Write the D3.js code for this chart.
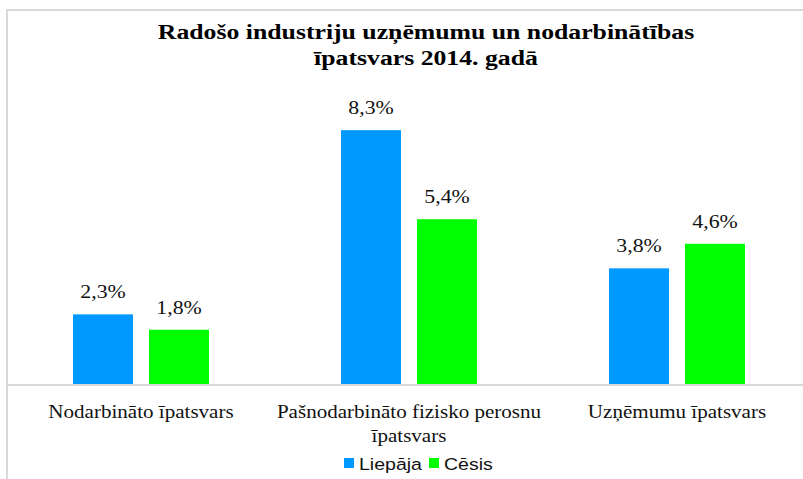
<!DOCTYPE html>
<html>
<head>
<meta charset="utf-8">
<script src="https://cdn.jsdelivr.net/npm/d3@7"></script>
<style>
  body { margin: 0; background: #fff; }
  svg { display: block; }
</style>
</head>
<body>
<svg id="chart"></svg>
<script>
const categories = ["Nodarbināto īpatsvars", "Pašnodarbināto fizisko perosnu īpatsvars", "Uzņēmumu īpatsvars"];
const categoryLines = [["Nodarbināto īpatsvars"], ["Pašnodarbināto fizisko perosnu", "īpatsvars"], ["Uzņēmumu īpatsvars"]];
const seriesNames = ["Liepāja", "Cēsis"];
const liepaja = [2.3, 8.3, 3.8];
const cesis = [1.8, 5.4, 4.6];
const seriesColors = ["#0099ff", "#00ff00"];
const titleLines = ["Radošo industriju uzņēmumu un nodarbinātības", "īpatsvars 2014. gadā"];

const width = 803, height = 479;
const serif = "'Liberation Serif', 'Times New Roman', serif";
const sans = "'Liberation Sans', Arial, sans-serif";
// the source image text is a bit wider than the fonts, so stretch it sideways
const stretch = 1.17;

const svg = d3.select("#chart").attr("width", width).attr("height", height);

// frame (chart border runs past the right and bottom edge)
svg.append("path")
    .attr("d", "M7,480 V10 H804")
    .attr("fill", "none")
    .attr("stroke", "#d9d9d9")
    .attr("stroke-width", 2);

const x0 = d3.scaleBand().domain(categories).range([7, 811]);
const x1 = d3.scaleBand().domain(seriesNames).range([-68, 68]).paddingInner(16 / 76);
const y = d3.scaleLinear().domain([0, 10]).range([385, 78]);

const rows = categories.map((c, i) => ({ cat: c, values: [liepaja[i], cesis[i]] }));

// title
svg.append("g")
    .attr("transform", "translate(426,39) scale(" + stretch + ",1)")
    .append("text")
    .attr("text-anchor", "middle")
    .attr("font-family", serif)
    .attr("font-weight", "bold")
    .attr("font-size", 22)
    .attr("fill", "#000")
    .selectAll("tspan")
    .data(titleLines)
    .enter()
    .append("tspan")
    .attr("x", 0)
    .attr("dy", (d, i) => i === 0 ? 0 : 26)
    .text(d => d);

// bars
const group = svg.append("g")
    .selectAll("g")
    .data(rows)
    .enter()
    .append("g")
    .attr("transform", d => "translate(" + (x0(d.cat) + x0.bandwidth() / 2) + ",0)");

group.selectAll("rect")
    .data(d => d.values.map((v, i) => ({ s: seriesNames[i], v: v, i: i })))
    .enter()
    .append("rect")
    .attr("x", d => x1(d.s))
    .attr("y", d => y(d.v))
    .attr("width", x1.bandwidth())
    .attr("height", d => y(0) - y(d.v))
    .attr("fill", d => seriesColors[d.i]);

group.selectAll("text.val")
    .data(d => d.values.map((v, i) => ({ s: seriesNames[i], v: v })))
    .enter()
    .append("text")
    .attr("class", "val")
    .attr("transform", d => "translate(" + (x1(d.s) + x1.bandwidth() / 2) + "," + (y(d.v) - 16) + ") scale(1.15,1)")
    .attr("text-anchor", "middle")
    .attr("font-family", serif)
    .attr("font-size", 19)
    .attr("fill", "#111")
    .text(d => d.v.toFixed(1).replace(".", ",") + "%");

// axis line
svg.append("line")
    .attr("x1", 7).attr("x2", 803)
    .attr("y1", y(0)).attr("y2", y(0))
    .attr("stroke", "#d9d9d9")
    .attr("stroke-width", 2);

// category labels
const catLabel = svg.append("g")
    .selectAll("text")
    .data(categories)
    .enter()
    .append("text")
    .attr("transform", d => "translate(" + (x0(d) + x0.bandwidth() / 2) + ",418) scale(" + stretch + ",1)")
    .attr("text-anchor", "middle")
    .attr("font-family", serif)
    .attr("font-size", 18)
    .attr("fill", "#111");

catLabel.selectAll("tspan")
    .data((d, i) => categoryLines[i])
    .enter()
    .append("tspan")
    .attr("x", 0)
    .attr("dy", (d, i) => i === 0 ? 0 : 24.5)
    .text(d => d);

// legend
const legend = svg.append("g").attr("transform", "translate(344,458)");
const legendX = [0, 85];
seriesNames.forEach((name, i) => {
    legend.append("rect")
        .attr("x", legendX[i])
        .attr("y", 0)
        .attr("width", 10)
        .attr("height", 10)
        .attr("fill", seriesColors[i]);
    legend.append("text")
        .attr("transform", "translate(" + (legendX[i] + 15) + ",12) scale(1.15,1)")
        .attr("font-family", sans)
        .attr("font-size", 17)
        .attr("fill", "#111")
        .text(name);
});
</script>
</body>
</html>
